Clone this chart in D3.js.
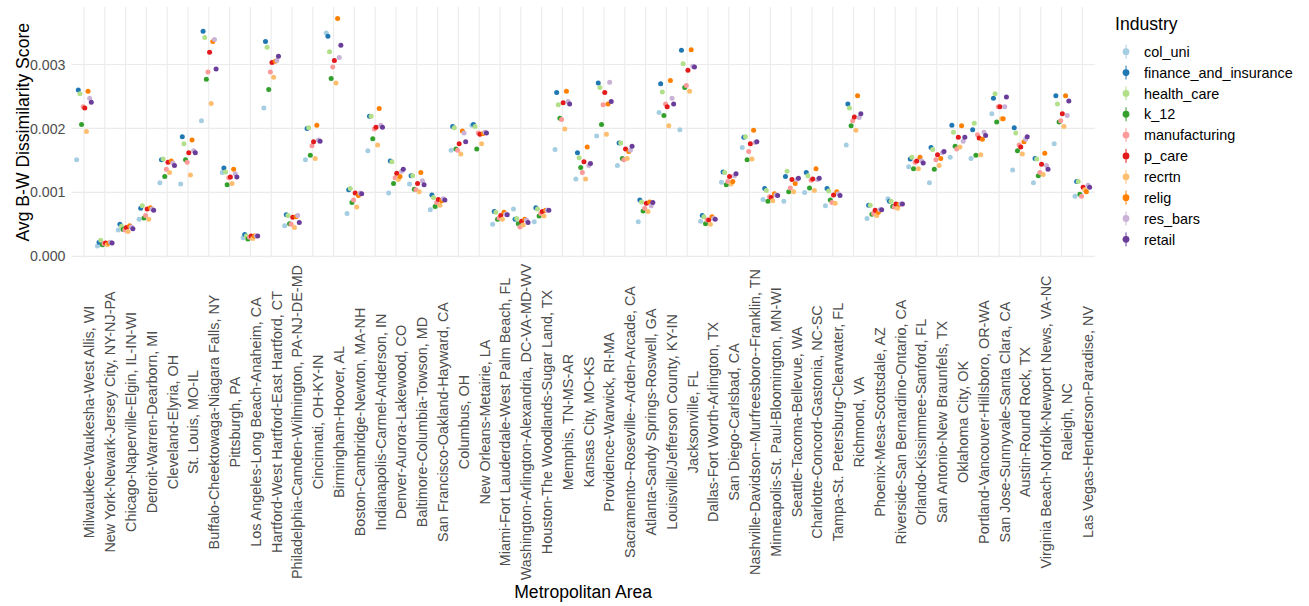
<!DOCTYPE html>
<html>
<head>
<meta charset="utf-8">
<script src="https://cdn.jsdelivr.net/npm/d3@7"></script>
<style>
  body { margin: 0; background: #fff; }
  svg { font-family: "Liberation Sans", Arial, Helvetica, sans-serif; }
</style>
</head>
<body>
<svg width="1309" height="606"></svg>
<script>
// metro areas, in plotting order
const metros = [
  "Milwaukee-Waukesha-West Allis, WI", "New York-Newark-Jersey City, NY-NJ-PA",
  "Chicago-Naperville-Elgin, IL-IN-WI", "Detroit-Warren-Dearborn, MI", "Cleveland-Elyria, OH",
  "St. Louis, MO-IL", "Buffalo-Cheektowaga-Niagara Falls, NY", "Pittsburgh, PA",
  "Los Angeles-Long Beach-Anaheim, CA", "Hartford-West Hartford-East Hartford, CT",
  "Philadelphia-Camden-Wilmington, PA-NJ-DE-MD", "Cincinnati, OH-KY-IN", "Birmingham-Hoover, AL",
  "Boston-Cambridge-Newton, MA-NH", "Indianapolis-Carmel-Anderson, IN", "Denver-Aurora-Lakewood, CO",
  "Baltimore-Columbia-Towson, MD", "San Francisco-Oakland-Hayward, CA", "Columbus, OH",
  "New Orleans-Metairie, LA", "Miami-Fort Lauderdale-West Palm Beach, FL",
  "Washington-Arlington-Alexandria, DC-VA-MD-WV", "Houston-The Woodlands-Sugar Land, TX",
  "Memphis, TN-MS-AR", "Kansas City, MO-KS", "Providence-Warwick, RI-MA",
  "Sacramento--Roseville--Arden-Arcade, CA", "Atlanta-Sandy Springs-Roswell, GA",
  "Louisville/Jefferson County, KY-IN", "Jacksonville, FL", "Dallas-Fort Worth-Arlington, TX",
  "San Diego-Carlsbad, CA", "Nashville-Davidson--Murfreesboro--Franklin, TN",
  "Minneapolis-St. Paul-Bloomington, MN-WI", "Seattle-Tacoma-Bellevue, WA",
  "Charlotte-Concord-Gastonia, NC-SC", "Tampa-St. Petersburg-Clearwater, FL", "Richmond, VA",
  "Phoenix-Mesa-Scottsdale, AZ", "Riverside-San Bernardino-Ontario, CA",
  "Orlando-Kissimmee-Sanford, FL", "San Antonio-New Braunfels, TX", "Oklahoma City, OK",
  "Portland-Vancouver-Hillsboro, OR-WA", "San Jose-Sunnyvale-Santa Clara, CA",
  "Austin-Round Rock, TX", "Virginia Beach-Norfolk-Newport News, VA-NC", "Raleigh, NC",
  "Las Vegas-Henderson-Paradise, NV"
];

const industries = ["col_uni", "finance_and_insurance", "health_care", "k_12", "manufacturing",
  "p_care", "recrtn", "relig", "res_bars", "retail"];

// scores in thousandths, one value per metro (same order as metros)
const col_uni = [1.51, 0.16, 0.41, 0.58, 1.15, 1.13, 2.12, 1.31, 0.29, 2.32, 0.48, 1.51, 3.49, 0.67, 1.65, 0.99, 1.13, 0.73, 1.66, 2.05, 0.50, 0.74, 0.54, 1.67, 1.21, 1.88, 1.42, 0.54, 2.25, 1.98, 0.55, 1.16, 1.70, 0.89, 0.86, 1.00, 0.79, 1.74, 0.59, 0.90, 1.40, 1.15, 1.55, 1.53, 2.23, 1.35, 1.15, 1.76, 0.94];
const finance_and_insurance = [2.60, 0.22, 0.50, 0.75, 1.51, 1.87, 3.52, 1.38, 0.34, 3.36, 0.65, 2.00, 3.44, 1.04, 2.19, 1.49, 1.26, 0.96, 2.03, 2.06, 0.70, 0.58, 0.76, 2.56, 1.62, 2.71, 1.77, 0.88, 2.70, 3.22, 0.64, 1.32, 1.86, 1.06, 1.25, 1.31, 1.06, 2.38, 0.80, 0.86, 1.52, 1.70, 2.05, 1.98, 2.47, 2.01, 1.53, 2.51, 1.17];
const health_care = [2.54, 0.25, 0.47, 0.79, 1.52, 1.76, 3.42, 1.32, 0.32, 3.27, 0.64, 2.01, 3.20, 1.06, 2.19, 1.48, 1.26, 0.92, 2.01, 2.03, 0.69, 0.59, 0.74, 2.37, 1.54, 2.64, 1.77, 0.85, 2.57, 3.01, 0.62, 1.31, 1.87, 1.03, 1.33, 1.26, 1.02, 2.32, 0.80, 0.86, 1.55, 1.67, 1.94, 2.08, 2.54, 1.93, 1.52, 2.38, 1.17];
const k_12 = [2.06, 0.18, 0.42, 0.60, 1.25, 1.51, 2.77, 1.12, 0.27, 2.61, 0.51, 1.58, 2.78, 0.84, 1.84, 1.14, 1.05, 0.78, 1.68, 1.68, 0.58, 0.51, 0.63, 2.16, 1.39, 2.06, 1.53, 0.71, 2.20, 2.64, 0.51, 1.12, 1.51, 0.86, 1.01, 1.07, 0.88, 2.04, 0.66, 0.78, 1.37, 1.36, 1.72, 1.58, 2.10, 1.65, 1.26, 2.10, 0.97];
const manufacturing = [2.34, 0.20, 0.41, 0.64, 1.36, 1.47, 2.88, 1.23, 0.30, 2.88, 0.50, 1.73, 2.96, 0.88, 1.99, 1.23, 1.04, 0.84, 1.66, 1.93, 0.60, 0.46, 0.67, 2.14, 1.31, 2.37, 1.51, 0.75, 2.38, 2.67, 0.57, 1.17, 1.64, 0.93, 1.07, 1.19, 0.84, 2.12, 0.67, 0.77, 1.47, 1.51, 1.68, 1.90, 2.34, 1.74, 1.31, 2.12, 0.94];
const p_care = [2.32, 0.21, 0.45, 0.74, 1.47, 1.62, 3.19, 1.24, 0.32, 3.03, 0.61, 1.79, 3.06, 0.99, 2.02, 1.30, 1.14, 0.89, 1.76, 1.91, 0.64, 0.55, 0.70, 2.40, 1.48, 2.56, 1.68, 0.83, 2.34, 2.91, 0.57, 1.25, 1.76, 0.92, 1.20, 1.21, 0.96, 2.18, 0.72, 0.82, 1.49, 1.59, 1.86, 1.85, 2.34, 1.71, 1.44, 2.23, 1.08];
const recrtn = [1.95, 0.18, 0.39, 0.58, 1.31, 1.27, 2.39, 1.14, 0.28, 2.80, 0.45, 1.53, 2.71, 0.77, 1.74, 1.20, 1.01, 0.80, 1.60, 1.76, 0.58, 0.49, 0.63, 1.99, 1.21, 1.91, 1.53, 0.70, 2.04, 2.58, 0.50, 1.13, 1.52, 0.87, 1.01, 1.03, 0.83, 1.97, 0.64, 0.75, 1.37, 1.42, 1.71, 1.59, 2.15, 1.60, 1.28, 2.03, 1.04];
const relig = [2.58, 0.21, 0.48, 0.76, 1.49, 1.82, 3.36, 1.36, 0.32, 3.05, 0.62, 2.05, 3.72, 0.95, 2.31, 1.25, 1.31, 0.87, 1.96, 1.92, 0.69, 0.58, 0.72, 2.58, 1.71, 2.38, 1.64, 0.85, 2.75, 3.23, 0.62, 1.17, 1.97, 0.98, 1.14, 1.37, 1.01, 2.51, 0.69, 0.81, 1.55, 1.53, 2.04, 1.83, 2.15, 1.79, 1.61, 2.51, 1.01];
const res_bars = [2.47, 0.22, 0.46, 0.74, 1.46, 1.65, 3.39, 1.29, 0.32, 3.06, 0.64, 1.82, 3.11, 0.99, 2.05, 1.33, 1.18, 0.90, 1.93, 1.94, 0.66, 0.57, 0.72, 2.42, 1.42, 2.72, 1.66, 0.79, 2.47, 2.97, 0.59, 1.26, 1.78, 0.96, 1.20, 1.20, 0.98, 2.17, 0.73, 0.82, 1.49, 1.62, 1.80, 1.94, 2.34, 1.83, 1.42, 2.20, 1.11];
const retail = [2.41, 0.21, 0.43, 0.72, 1.42, 1.62, 2.93, 1.24, 0.32, 3.13, 0.53, 1.80, 3.30, 0.98, 2.02, 1.36, 1.12, 0.88, 1.79, 1.93, 0.65, 0.53, 0.72, 2.38, 1.45, 2.42, 1.72, 0.84, 2.38, 2.96, 0.58, 1.29, 1.79, 0.95, 1.22, 1.22, 0.95, 2.23, 0.73, 0.82, 1.46, 1.64, 1.86, 1.89, 2.49, 1.87, 1.36, 2.43, 1.08];

const yTicks = [0, 0.001, 0.002, 0.003];

const seriesValues = [col_uni, finance_and_insurance, health_care, k_12, manufacturing,
  p_care, recrtn, relig, res_bars, retail];

// long table: one row per metro x industry
const rows = [];
metros.forEach((m, mi) => {
  industries.forEach((ind, ii) => {
    rows.push({ metro: m, industry: ind, value: seriesValues[ii][mi] * 1e-3 });
  });
});

const svg = d3.select("svg");
const panel = { left: 71.5, right: 1094.8, top: 7, bottom: 257.5 };

const x = d3.scalePoint().domain(metros).range([panel.left, panel.right]).padding(0.6);
const dodge = d3.scaleBand().domain(industries)
  .range([-0.39 * x.step(), 0.39 * x.step()]);

const ext = d3.extent(rows, (d) => d.value);
const pad = (ext[1] - ext[0]) * 0.05;
const y = d3.scaleLinear().domain([ext[0] - pad, ext[1] + pad]).range([panel.bottom, panel.top]);

const color = d3.scaleOrdinal().domain(industries).range(d3.schemePaired);

// grid
const grid = svg.append("g");
grid.selectAll("line.h")
  .data(yTicks)
  .enter()
  .append("line")
  .attr("x1", panel.left).attr("x2", panel.right)
  .attr("y1", (d) => y(d)).attr("y2", (d) => y(d))
  .attr("stroke", "#ebebeb").attr("stroke-width", 1.1);
grid.selectAll("line.v")
  .data(metros)
  .enter()
  .append("line")
  .attr("x1", (d) => x(d)).attr("x2", (d) => x(d))
  .attr("y1", panel.top).attr("y2", panel.bottom)
  .attr("stroke", "#ebebeb").attr("stroke-width", 1.1);

// y tick labels
svg.append("g").selectAll("text")
  .data(yTicks)
  .enter()
  .append("text")
  .attr("x", panel.left - 6)
  .attr("y", (d) => y(d))
  .attr("dy", "0.36em")
  .attr("text-anchor", "end")
  .attr("font-size", 14.2)
  .attr("fill", "#4d4d4d")
  .text(d3.format(".3f"));

// x tick labels (rotated, centred)
const labelMid = 422;
svg.append("g").selectAll("text")
  .data(metros)
  .enter()
  .append("text")
  .attr("transform", (d) => `translate(${x(d) + 10.5},${labelMid}) rotate(-90)`)
  .attr("text-anchor", "middle")
  .attr("font-size", 14.4)
  .attr("fill", "#4d4d4d")
  .text((d) => d);

// points
svg.append("g").selectAll("circle")
  .data(rows)
  .enter()
  .append("circle")
  .attr("cx", (d) => x(d.metro) + dodge(d.industry) + dodge.bandwidth() / 2)
  .attr("cy", (d) => y(d.value))
  .attr("r", 2.5)
  .attr("fill", (d) => color(d.industry));

// axis titles
svg.append("text")
  .attr("x", (panel.left + panel.right) / 2)
  .attr("y", 598)
  .attr("text-anchor", "middle")
  .attr("font-size", 17.6)
  .attr("fill", "#000")
  .text("Metropolitan Area");

svg.append("text")
  .attr("transform", `translate(29,${(panel.top + panel.bottom) / 2}) rotate(-90)`)
  .attr("text-anchor", "middle")
  .attr("font-size", 17.6)
  .attr("fill", "#000")
  .text("Avg B-W Dissimilarity Score");

// legend
const legend = svg.append("g").attr("transform", "translate(1115,0)");
legend.append("text")
  .attr("x", 0).attr("y", 29.5)
  .attr("font-size", 17.6)
  .attr("fill", "#000")
  .text("Industry");

const item = legend.selectAll("g.item")
  .data(industries)
  .enter()
  .append("g")
  .attr("class", "item")
  .attr("transform", (d, i) => `translate(0,${51.7 + i * 20.85})`);
item.append("line")
  .attr("x1", 11).attr("x2", 11)
  .attr("y1", -7).attr("y2", 7)
  .attr("stroke", (d) => color(d))
  .attr("stroke-width", 1);
item.append("circle")
  .attr("cx", 11).attr("cy", 0).attr("r", 3.4)
  .attr("fill", (d) => color(d));
item.append("text")
  .attr("x", 29).attr("y", 0)
  .attr("dy", "0.36em")
  .attr("font-size", 14.4)
  .attr("fill", "#000")
  .text((d) => d);
</script>
</body>
</html>
